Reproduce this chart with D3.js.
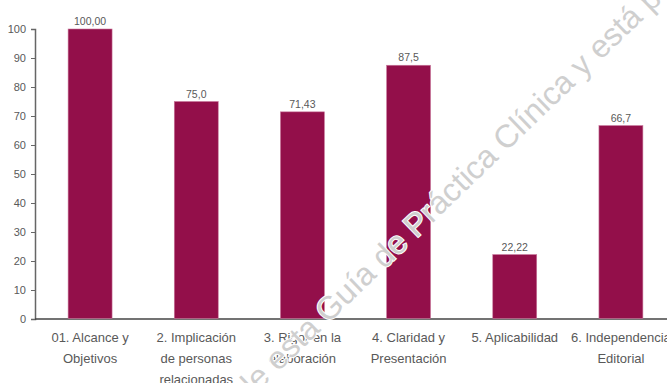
<!DOCTYPE html>
<html>
<head>
<meta charset="utf-8">
<script src="https://cdn.jsdelivr.net/npm/d3@7"></script>
<style>
  html, body { margin: 0; padding: 0; background: #fff; }
  svg { display: block; }
</style>
</head>
<body>
<svg id="chart" width="667" height="383"></svg>
<script>
const categories = [
  "01. Alcance y\nObjetivos",
  "2. Implicación\nde personas\nrelacionadas",
  "3. Rigor en la\nelaboración",
  "4. Claridad y\nPresentación",
  "5. Aplicabilidad",
  "6. Independencia\nEditorial"
];
const values = [100, 75, 71.43, 87.5, 22.22, 66.7];
const valueLabels = ["100,00", "75,0", "71,43", "87,5", "22,22", "66,7"];
const yTicks = [0, 10, 20, 30, 40, 50, 60, 70, 80, 90, 100];
const watermarkBefore = "Han transcurrido más de 5 años desde la publicación de esta ";
const watermarkAfter = "Guía de Práctica Clínica y está pendiente su actualización.";

const svg = d3.select("#chart");
const FONT = "'Liberation Sans', Arial, Helvetica, sans-serif";
const axisX = 35, y0 = 319, y100 = 29;

const x = d3.scaleBand().domain(categories).range([37, 674])
  .paddingInner(0.586).paddingOuter(0.293);
const y = d3.scaleLinear().domain([0, 100]).range([y0, y100]);

// X labels
categories.forEach(c => {
  const lines = c.split("\n");
  const t = svg.append("text").attr("text-anchor", "middle")
    .attr("fill", "#595959").style("font-family", FONT).style("font-size", "13px");
  lines.forEach((ln, i) => {
    t.append("tspan").attr("x", x(c) + x.bandwidth() / 2).attr("y", 342 + i * 21).text(ln);
  });
});

// Y axis
const yAxis = d3.axisLeft(y).tickValues(yTicks).tickSize(4).tickPadding(5).tickFormat(d3.format("d"));
const gy = svg.append("g").attr("transform", `translate(${axisX},0)`).call(yAxis);
gy.select(".domain").attr("stroke", "#666").attr("stroke-width", 1.5);
gy.selectAll(".tick line").attr("stroke", "#666");
gy.selectAll(".tick text").attr("fill", "#595959").style("font-family", FONT).style("font-size", "11px");

// X axis line
svg.append("line").attr("x1", axisX).attr("x2", 667).attr("y1", y0).attr("y2", y0)
  .attr("stroke", "#444").attr("stroke-width", 1.3);

// Bars
svg.selectAll("rect.bar").data(values).join("rect").attr("class", "bar")
  .attr("x", (d, i) => x(categories[i]))
  .attr("width", x.bandwidth())
  .attr("y", d => y(d))
  .attr("height", d => y0 - y(d) - 0.6)
  .attr("fill", "#930f4a")
  .attr("stroke", "#c9789c").attr("stroke-width", 0.6);

// Value labels
svg.selectAll("text.val").data(values).join("text").attr("class", "val")
  .attr("x", (d, i) => x(categories[i]) + x.bandwidth() / 2)
  .attr("y", d => y(d) - 4)
  .attr("text-anchor", "middle")
  .attr("fill", "#595959").style("font-family", FONT).style("font-size", "10.5px")
  .text((d, i) => valueLabels[i]);

// Watermark (on top)
const wm = svg.append("g").attr("transform", "translate(328,324) rotate(-44)");
[[watermarkBefore, "end"], [watermarkAfter, "start"]].forEach(([s, a]) => {
  wm.append("text").attr("x", 0).attr("y", 0).attr("text-anchor", a)
    .style("font-family", FONT).style("font-size", "32px")
    .attr("fill", "#cfcfcf").attr("stroke", "#fff").attr("stroke-width", 2)
    .attr("paint-order", "stroke")
    .style("white-space", "pre")
    .text(s);
});
</script>
</body>
</html>
